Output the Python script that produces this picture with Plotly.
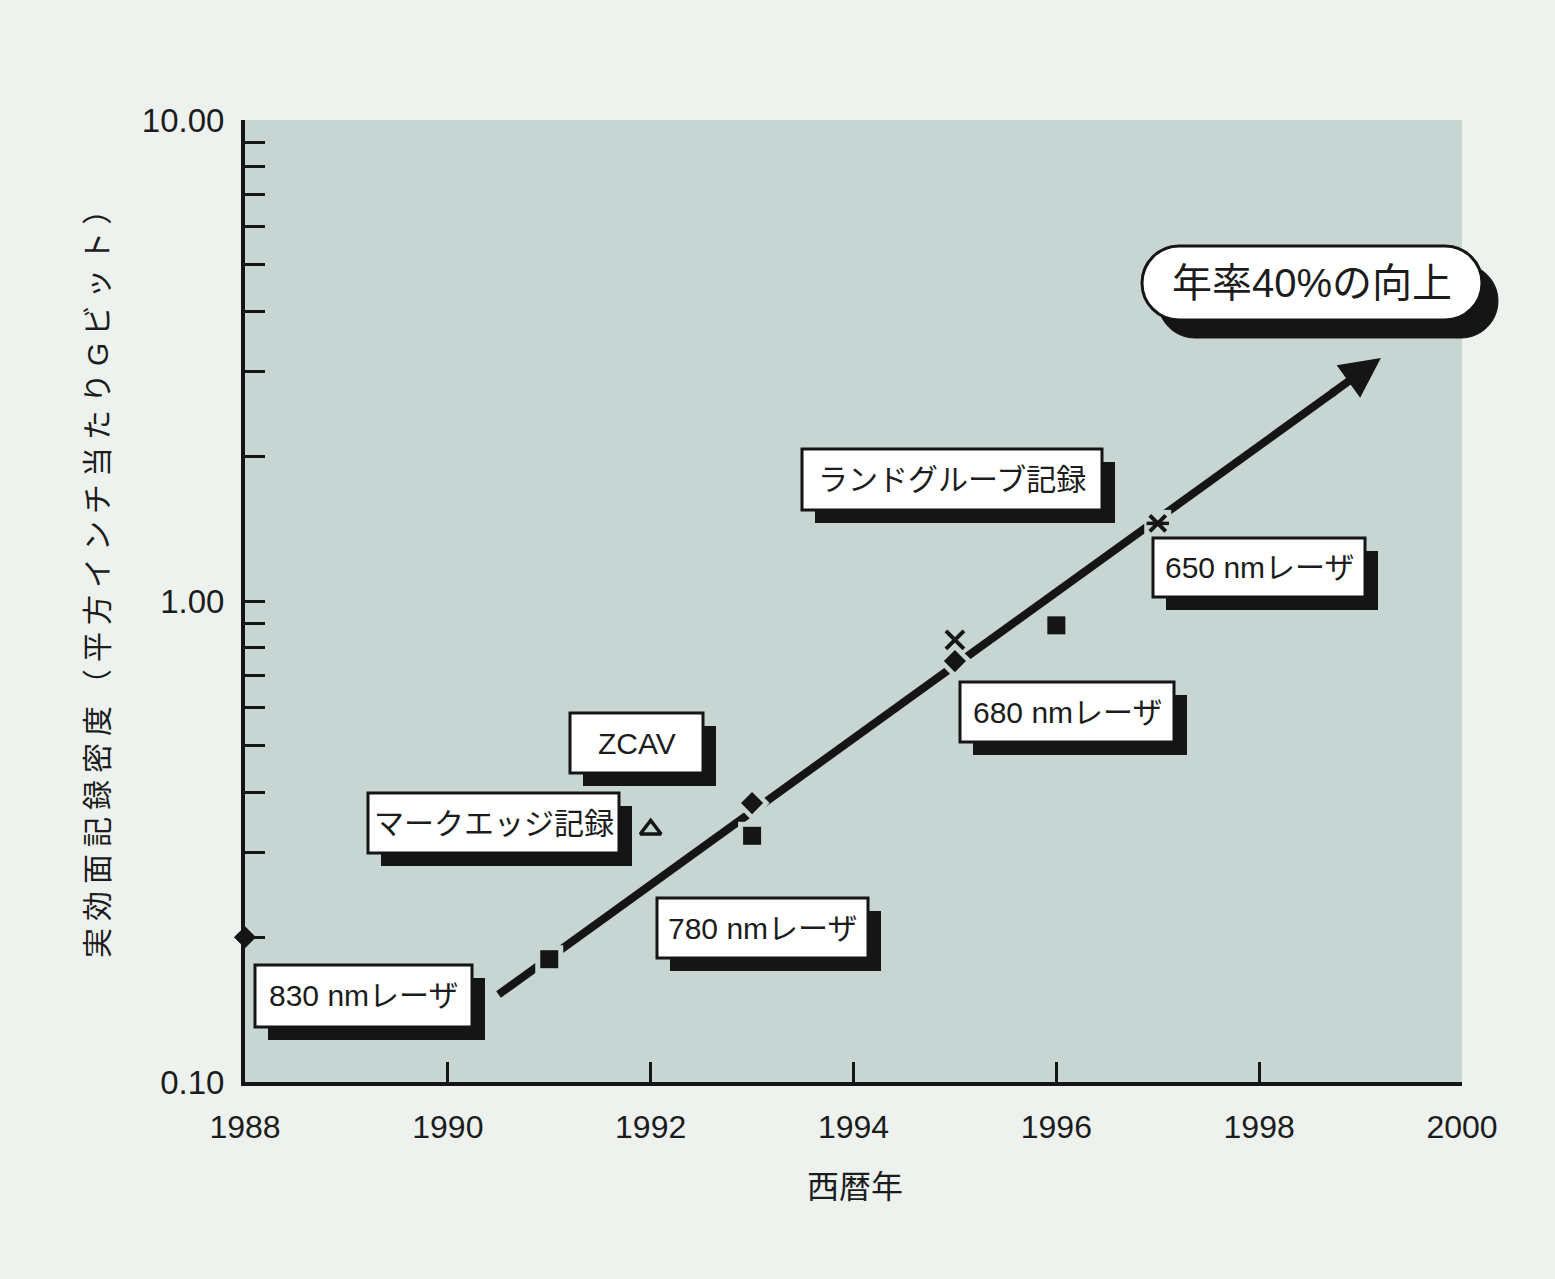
import numpy as np
import plotly.graph_objects as go

# ---- data: effective areal recording density (Gbit / sq.inch) by year ----
diamond_years = [1988, 1993, 1995]
diamond_vals = [0.20, 0.38, 0.75]
square_years = [1991, 1993, 1996]
square_vals = [0.18, 0.325, 0.89]
triangle_years = [1992]
triangle_vals = [0.335]
cross_years = [1995]
cross_vals = [0.83]
star_years = [1997]
star_vals = [1.45]

# 40 %/year trend line (start, arrow tip)
trend_years = [1990.5, 1999.2]
trend_vals = [0.152, 3.2]

x_ticks = [1988, 1990, 1992, 1994, 1996, 1998, 2000]
y_ticks = [0.1, 1, 10]
y_tick_text = ["0.10", "1.00", "10.00"]

# callout boxes: text, left, top, right, bottom (pixels)
callouts = [
    ("830 nmレーザ", 255, 965, 472, 1027),
    ("780 nmレーザ", 657, 898, 868, 958),
    ("マークエッジ記録", 368, 793, 619, 853),
    ("ZCAV", 570, 713, 703, 773),
    ("ランドグルーブ記録", 802, 449, 1102, 510),
    ("680 nmレーザ", 960, 682, 1174, 742),
    ("650 nmレーザ", 1153, 538, 1365, 597),
]
headline = "年率40%の向上"

# ---- layout geometry ----
W, H = 1555, 1279
L, R, T, B = 245, 1462, 120, 1082
FONT = "Liberation Sans, Noto Sans CJK JP, sans-serif"
INK = "#151515"
TEXT = "#1c1c1c"
PAPER_BG = "#edf2ee"
PLOT_BG = "#c7d6d2"
SHADOW = 13


def px(xp, yp):
    """pixel position -> paper coordinates"""
    return (xp - L) / (R - L), (B - yp) / (B - T)


def trend_at(year):
    ly = np.interp(year, trend_years, np.log10(trend_vals))
    return 10 ** ly


fig = go.Figure()

# trend line (ends just before the arrow head)
line_end = trend_years[1] - 0.45
fig.add_trace(go.Scatter(
    x=[trend_years[0], line_end],
    y=[trend_vals[0], trend_at(line_end)],
    mode="lines", line=dict(color=INK, width=8),
    hoverinfo="skip", showlegend=False,
))

# halos that open a gap in the trend line around each marker
halo = dict(mode="markers", hoverinfo="skip", showlegend=False, cliponaxis=False)
fig.add_trace(go.Scatter(x=square_years, y=square_vals,
                         marker=dict(symbol="square", size=28, color=PLOT_BG), **halo))
fig.add_trace(go.Scatter(x=diamond_years[1:], y=diamond_vals[1:],
                         marker=dict(symbol="diamond", size=27, color=PLOT_BG), **halo))
fig.add_trace(go.Scatter(x=cross_years, y=cross_vals,
                         marker=dict(symbol="x", size=23, color=PLOT_BG), **halo))
fig.add_trace(go.Scatter(x=star_years, y=star_vals,
                         marker=dict(symbol="square", size=27, color=PLOT_BG), **halo))

# markers
mk = dict(mode="markers", showlegend=False, cliponaxis=False)
fig.add_trace(go.Scatter(x=diamond_years, y=diamond_vals,
                         marker=dict(symbol="diamond", size=17, color=INK), **mk))
fig.add_trace(go.Scatter(x=square_years, y=square_vals,
                         marker=dict(symbol="square", size=18, color=INK), **mk))
fig.add_trace(go.Scatter(x=triangle_years, y=triangle_vals,
                         marker=dict(symbol="triangle-up-open", size=18,
                                     color=INK, line=dict(width=3.5, color=INK)), **mk))
fig.add_trace(go.Scatter(x=cross_years, y=cross_vals,
                         marker=dict(symbol="x-thin-open", size=18,
                                     color=INK, line=dict(width=4, color=INK)), **mk))
fig.add_trace(go.Scatter(x=star_years, y=star_vals,
                         marker=dict(symbol="x-thin-open", size=16,
                                     color=INK, line=dict(width=4, color=INK)), **mk))
fig.add_trace(go.Scatter(x=star_years, y=star_vals,
                         marker=dict(symbol="line-ew-open", size=16,
                                     color=INK, line=dict(width=3.5, color=INK)), **mk))

annotations = []
shapes = []

# arrow head at the end of the trend line
annotations.append(dict(
    x=trend_years[1], y=np.log10(trend_vals[1]),
    ax=line_end - 0.05, ay=np.log10(trend_at(line_end - 0.05)),
    xref="x", yref="y", axref="x", ayref="y",
    text="", showarrow=True, arrowhead=2, arrowsize=1.0,
    arrowwidth=8, arrowcolor=INK,
))

# callout boxes with drop shadows (shapes) and their labels
for text, x0, y0, x1, y1 in callouts:
    sx0, sy0 = px(x0 + SHADOW, y0 + SHADOW)
    sx1, sy1 = px(x1 + SHADOW, y1 + SHADOW)
    shapes.append(dict(type="rect", xref="paper", yref="paper",
                       x0=sx0, y0=sy0, x1=sx1, y1=sy1,
                       fillcolor=INK, line=dict(width=0), layer="above"))
    bx0, by0 = px(x0, y0)
    bx1, by1 = px(x1, y1)
    shapes.append(dict(type="rect", xref="paper", yref="paper",
                       x0=bx0, y0=by0, x1=bx1, y1=by1,
                       fillcolor="white", line=dict(color=INK, width=3), layer="above"))
    cx, cy = px((x0 + x1) / 2, (y0 + y1) / 2)
    annotations.append(dict(x=cx, y=cy, xref="paper", yref="paper", text=text,
                            showarrow=False, xanchor="center", yanchor="middle",
                            font=dict(size=30, color=TEXT, family=FONT)))


# rounded headline capsule
def capsule(l, t, r, b):
    rad = (b - t) / 2
    cy = (t + b) / 2
    k = 0.5523 * rad
    pts = [
        ("M", [(l + rad, t)]),
        ("L", [(r - rad, t)]),
        ("C", [(r - rad + k, t), (r, cy - k), (r, cy)]),
        ("C", [(r, cy + k), (r - rad + k, b), (r - rad, b)]),
        ("L", [(l + rad, b)]),
        ("C", [(l + rad - k, b), (l, cy + k), (l, cy)]),
        ("C", [(l, cy - k), (l + rad - k, t), (l + rad, t)]),
    ]
    out = []
    for cmd, ps in pts:
        coords = " ".join("%.5f,%.5f" % px(a, c) for a, c in ps)
        out.append(f"{cmd}{coords}")
    return " ".join(out) + " Z"


cap = (1142, 246, 1482, 320)
shapes.append(dict(type="path", xref="paper", yref="paper",
                   path=capsule(cap[0] + 16, cap[1] + 18, cap[2] + 16, cap[3] + 18),
                   fillcolor=INK, line=dict(color=INK, width=1), layer="above"))
shapes.append(dict(type="path", xref="paper", yref="paper",
                   path=capsule(*cap), fillcolor="white",
                   line=dict(color=INK, width=3), layer="above"))
hx, hy = px((cap[0] + cap[2]) / 2, (cap[1] + cap[3]) / 2)
annotations.append(dict(x=hx, y=hy, xref="paper", yref="paper", text=headline,
                        showarrow=False, xanchor="center", yanchor="middle",
                        font=dict(size=40, color=TEXT, family=FONT)))

# axis titles
tx, ty = px(855, 1187)
annotations.append(dict(x=tx, y=ty, xref="paper", yref="paper", text="西暦年",
                        showarrow=False, xanchor="center", yanchor="middle",
                        font=dict(size=32, color=TEXT, family=FONT)))
vx, vy = px(97, 573)
annotations.append(dict(
    x=vx, y=vy, xref="paper", yref="paper", textangle=-90,
    text='<span style="letter-spacing:7px">実効面記録密度（平方インチ当たりGビット）</span>',
    showarrow=False, xanchor="center", yanchor="middle",
    font=dict(size=30, color=TEXT, family=FONT)))

minor_y = [m * d for d in (0.1, 1) for m in range(2, 10)]

fig.update_layout(
    width=W, height=H,
    margin=dict(l=L, r=W - R, t=T, b=H - B),
    paper_bgcolor=PAPER_BG, plot_bgcolor=PLOT_BG,
    font=dict(family=FONT, color=TEXT),
    showlegend=False,
    xaxis=dict(
        range=[1988, 2000], tickvals=x_ticks, ticks="inside", ticklen=20,
        tickwidth=2.5, tickcolor=INK, showline=True, linewidth=4, linecolor=INK,
        showgrid=False, zeroline=False, ticklabelstandoff=14,
        tickfont=dict(size=32, family=FONT, color=TEXT),
    ),
    yaxis=dict(
        type="log", range=[-1, 1], tickvals=y_ticks, ticktext=y_tick_text,
        ticks="inside", ticklen=20, tickwidth=2.5, tickcolor=INK,
        showline=True, linewidth=4, linecolor=INK, showgrid=False, zeroline=False,
        ticklabelstandoff=10,
        tickfont=dict(size=33, family=FONT, color=TEXT),
        minor=dict(tickvals=minor_y, ticks="inside", ticklen=20, tickwidth=2.5,
                   tickcolor=INK, showgrid=False),
    ),
    annotations=annotations,
    shapes=shapes,
)

fig.write_html("out.html")
